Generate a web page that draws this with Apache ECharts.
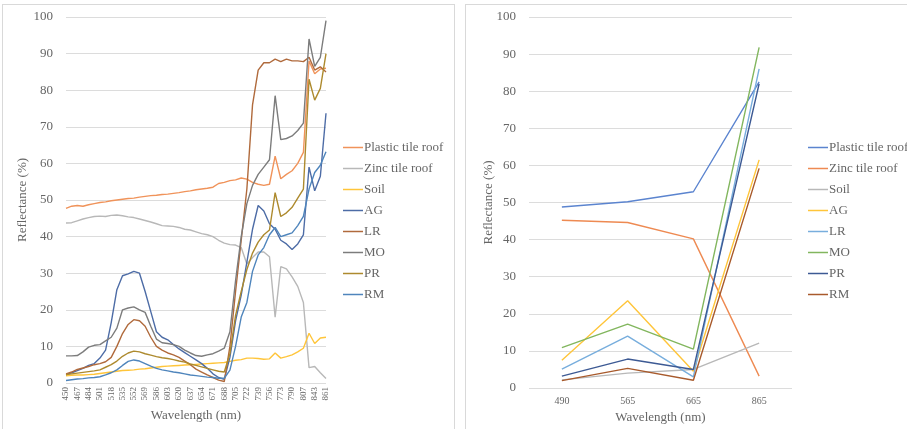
<!DOCTYPE html>
<html>
<head>
<meta charset="utf-8">
<script src="https://cdn.jsdelivr.net/npm/echarts@6/dist/echarts.min.js"></script>
<style>
  html, body { margin: 0; padding: 0; background: #fff; }
  body { width: 907px; height: 429px; position: relative; overflow: hidden; }
  .panel { position: absolute; top: 4px; border: 1px solid #d9d9d9; background: #fff; }
  #spectra { left: 2px; width: 451px; height: 432px; }
  #bands { left: 465px; width: 450px; height: 432px; }
</style>
</head>
<body>
<div id="spectra" class="panel"></div>
<div id="bands" class="panel"></div>
<script>
// left chart: full spectra, categories every half label step
var wavelengths = ["450","458","467","475","484","492","501","509","518","526","535","543","552","560","569","577",
  "586","594","603","611","620","628","637","645","654","662","671","679","688","696","705","713","722","730",
  "739","747","756","764","773","781","790","798","807","825","843","852","861"];
var specNames = ["Plastic tile roof", "Zinc tile roof", "Soil", "AG", "LR", "MO", "PR", "RM"];
var specColors = ["#F0935A", "#B8B8B8", "#FFC53A", "#4D6CA6", "#B06A3C", "#7C7C7C", "#AD8A2E", "#4F85BC"];

var plastic = [47.7,48.3,48.5,48.3,48.7,49.0,49.3,49.5,49.8,50.0,50.2,50.4,50.5,50.8,51.0,51.2,
  51.3,51.5,51.6,51.8,52.0,52.3,52.5,52.8,53.0,53.2,53.5,54.5,54.8,55.3,55.5,56.0,55.7,54.8,
  54.3,54.0,54.3,62.0,55.8,57.0,58.0,60.0,63.0,88.0,84.5,85.8,86.0];
var zinc = [43.7,43.8,44.3,44.8,45.2,45.5,45.6,45.5,45.8,45.9,45.7,45.4,45.2,44.8,44.4,44.0,
  43.5,43.0,42.9,42.8,42.5,42.0,41.8,41.3,40.8,40.5,40.0,39.0,38.2,37.8,37.7,37.0,32.5,34.3,
  35.8,35.8,34.5,18.0,31.8,31.2,29.0,26.4,22.0,4.2,4.5,2.8,1.2];
var soil = [2.0,2.1,2.2,2.2,2.3,2.4,2.6,2.8,3.0,3.2,3.4,3.5,3.6,3.8,3.9,4.1,
  4.3,4.5,4.6,4.7,4.8,4.9,5.0,5.1,5.2,5.3,5.4,5.5,5.6,5.9,6.2,6.4,6.8,6.8,
  6.7,6.5,6.6,8.2,6.8,7.2,7.7,8.5,9.5,13.6,10.8,12.3,12.5];
var ag = [2.3,2.8,3.4,4.0,4.8,5.3,6.8,9.0,16.5,25.5,29.3,29.8,30.5,30.0,25.0,19.5,
  14.0,12.5,11.8,10.5,9.3,8.3,7.3,6.3,5.3,4.0,2.5,1.5,1.0,7.0,17.0,24.0,33.0,42.0,
  48.5,47.0,43.5,42.0,39.0,38.0,36.5,38.0,40.5,59.0,52.5,56.5,73.7];
var lr = [2.5,3.0,3.7,4.1,4.5,5.0,5.3,5.8,7.0,10.0,13.5,16.0,17.3,17.0,15.5,12.5,
  10.0,9.0,8.2,7.7,7.0,6.0,5.0,3.8,3.0,2.2,1.5,0.8,0.4,10.0,25.0,39.0,53.0,76.0,
  85.5,87.5,87.5,88.5,87.8,88.5,88.0,88.0,87.8,89.0,85.5,86.4,85.0];
var mo = [7.4,7.4,7.5,8.5,9.8,10.3,10.5,11.5,12.5,15.0,20.0,20.5,20.8,20.0,19.3,15.5,
  12.0,11.0,10.8,10.5,10.0,9.0,8.2,7.5,7.3,7.7,8.0,8.7,9.5,14.0,28.0,40.0,49.0,54.0,
  57.0,59.0,61.0,78.5,66.5,66.8,67.5,69.0,71.0,94.0,86.5,89.0,99.0];
var pr = [2.3,2.5,2.7,2.9,3.1,3.3,3.6,4.3,5.0,6.0,7.3,8.2,8.7,8.5,8.0,7.6,
  7.2,6.9,6.7,6.4,6.0,5.7,5.2,4.8,4.4,4.0,3.6,3.2,3.0,8.0,18.5,25.0,31.0,35.5,
  38.5,40.5,41.8,52.0,45.5,46.5,48.0,50.5,53.0,83.0,77.3,80.5,90.0];
var rm = [0.7,0.9,1.1,1.2,1.4,1.5,1.7,2.2,2.8,3.6,4.8,5.9,6.3,6.0,5.3,4.6,
  4.0,3.6,3.3,3.0,2.8,2.5,2.2,2.0,1.8,1.6,1.5,1.3,1.3,3.5,10.0,18.0,22.0,30.5,
  35.0,37.0,40.5,42.5,40.0,40.5,41.0,43.0,45.5,53.0,57.5,59.5,63.2];

// right chart: four bands
var bandLabels = ["490", "565", "665", "865"];
var bandColors = ["#5B84CF", "#EE8A52", "#B8B8B8", "#FFC53A", "#78AEDD", "#82B65E", "#3D5A94", "#A85A2C"];
var bPlastic = [48.8, 50.2, 52.9, 82.5];
var bZinc = [45.2, 44.6, 40.2, 3.2];
var bSoil = [2.2, 4.0, 5.0, 12.1];
var bAG = [7.5, 23.5, 4.5, 61.5];
var bLR = [5.1, 14.0, 3.0, 86.0];
var bMO = [10.9, 17.2, 10.5, 91.8];
var bPR = [3.2, 7.8, 5.0, 82.0];
var bRM = [2.0, 5.3, 2.1, 59.2];

var FONT = "'Liberation Serif', 'Times New Roman', serif";
var TXT = "#666";

function lines(names, colors, arrays) {
  return names.map(function (n, i) {
    return {
      name: n,
      type: "line",
      data: arrays[i],
      symbol: "none",
      smooth: false,
      lineStyle: { width: 1.4, color: colors[i] },
      itemStyle: { color: colors[i] },
      animation: false
    };
  });
}

function legendFor(names, left) {
  return {
    orient: "vertical",
    left: left,
    top: 130,
    data: names,
    icon: "rect",
    itemWidth: 20,
    itemHeight: 1.5,
    itemGap: 6,
    textStyle: { fontFamily: FONT, fontSize: 13, color: TXT, lineHeight: 15, padding: [0, 0, 0, -4] }
  };
}

function yAxisFor(gap) {
  return {
    type: "value",
    min: 0,
    max: 100,
    interval: 10,
    name: "Reflectance (%)",
    nameLocation: "middle",
    nameGap: gap,
    nameMoveOverlap: false,
    nameTextStyle: { fontFamily: FONT, fontSize: 13, color: TXT },
    axisLine: { show: false },
    axisTick: { show: false },
    axisLabel: { fontFamily: FONT, fontSize: 13, color: TXT, margin: 13 },
    splitLine: { lineStyle: { color: "#dcdcdc", width: 1 } }
  };
}

var spectraChart = echarts.init(document.getElementById("spectra"));
spectraChart.setOption({
  animation: false,
  grid: { left: 63, top: 12, width: 260, height: 366 },
  legend: legendFor(specNames, 335),
  xAxis: {
    type: "category",
    data: wavelengths,
    boundaryGap: false,
    name: "Wavelength (nm)",
    nameLocation: "middle",
    nameGap: 26,
    nameTextStyle: { fontFamily: FONT, fontSize: 13, color: TXT },
    axisLine: { show: false },
    axisTick: { show: false },
    axisLabel: { interval: 1, rotate: 90, fontFamily: FONT, fontSize: 9, color: TXT, margin: 4 },
    splitLine: { show: false }
  },
  yAxis: yAxisFor(37),
  series: lines(specNames, specColors, [plastic, zinc, soil, ag, lr, mo, pr, rm])
});

var bandsChart = echarts.init(document.getElementById("bands"));
bandsChart.setOption({
  animation: false,
  grid: { left: 63, top: 12, width: 263, height: 371 },
  legend: legendFor(specNames, 337),
  xAxis: {
    type: "category",
    data: bandLabels,
    boundaryGap: true,
    name: "Wavelength (nm)",
    nameLocation: "middle",
    nameGap: 21,
    nameTextStyle: { fontFamily: FONT, fontSize: 13, color: TXT },
    axisLine: { show: false },
    axisTick: { show: false },
    axisLabel: { fontFamily: FONT, fontSize: 10, color: TXT, margin: 8 },
    splitLine: { show: false }
  },
  yAxis: yAxisFor(34),
  series: lines(specNames, bandColors, [bPlastic, bZinc, bSoil, bAG, bLR, bMO, bPR, bRM])
});
</script>
</body>
</html>
